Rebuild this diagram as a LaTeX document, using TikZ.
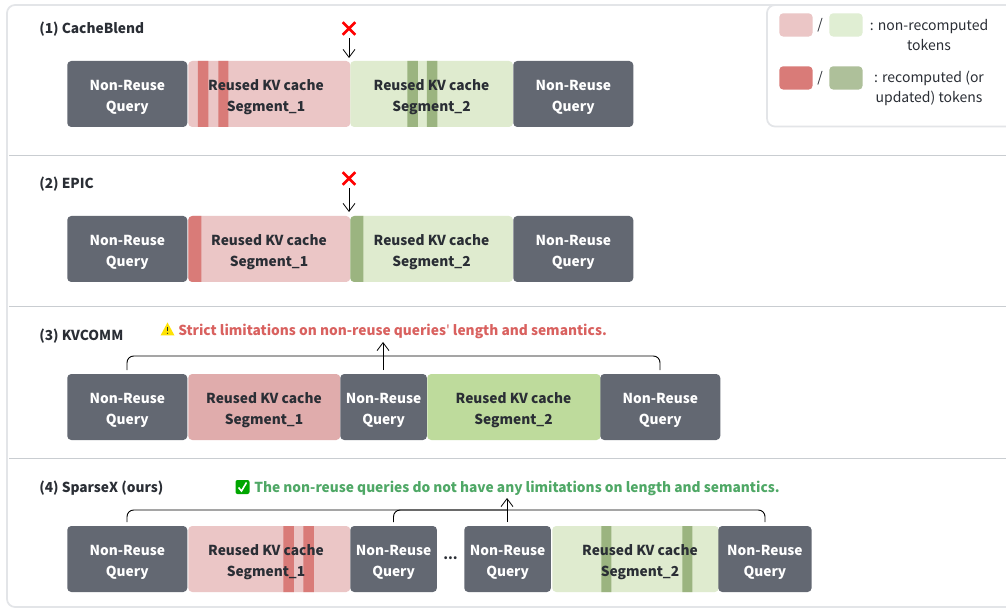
\documentclass[tikz,border=0pt]{standalone}
\usepackage{fontspec}
\setmainfont{Noto Sans CJK SC}
\font\aposfont="Noto Sans CJK SC:style=Bold" at 10.3pt
\usetikzlibrary{arrows.meta,calc}
\definecolor{qgray}{HTML}{636872}
\definecolor{pinkl}{HTML}{EBC6C6}
\definecolor{pinkd}{HTML}{D97B78}
\definecolor{pinkm}{HTML}{E0ACAC}
\definecolor{greenl}{HTML}{DFEBCF}
\definecolor{greend}{HTML}{9BB480}
\definecolor{greenm}{HTML}{BEDB9C}
\definecolor{legl}{HTML}{E0EED3}
\definecolor{legd}{HTML}{AEC09A}
\definecolor{inkc}{HTML}{2A2E35}
\definecolor{redt}{HTML}{D9615F}
\definecolor{greent}{HTML}{4FA866}
\definecolor{frame}{HTML}{E3E5E8}
\definecolor{sepc}{HTML}{C9CDD1}
\tikzset{
 x=0.75pt,y=-0.75pt,
 box/.style={rectangle,rounded corners=3pt,minimum height=49.5pt,inner sep=0pt,anchor=west},
 qlab/.style={font=\fontsize{10.3}{15.75}\selectfont\bfseries,text=white,align=center,inner sep=0pt,yshift=-2.7pt},
 query/.style={box,fill=qgray,label={[qlab]center:{Non-Reuse\\Query}}},
 seg/.style={box},
 lab/.style={font=\fontsize{10.3}{15.75}\selectfont\bfseries,text=inkc,align=center,inner sep=0pt,yshift=-1.5pt},
 title/.style={font=\fontsize{10.3}{13}\selectfont\bfseries,text=inkc,anchor=west,inner sep=0pt},
 sep/.style={draw=sepc,line width=1.4pt},
 swatch/.style={rectangle,rounded corners=3pt,minimum width=25pt,minimum height=17.5pt,inner sep=0pt,anchor=north west},
 legt/.style={font=\fontsize{10.5}{15}\selectfont,text=inkc,align=center,inner sep=0pt},
 arr/.style={draw=black,line width=0.6pt,-{Straight Barb[length=6pt,width=9pt]}},
 brk/.style={draw=black,line width=0.7pt,rounded corners=5pt},
 xmark/.style={draw=red,line width=2pt},
}
% \stripe{node centre x}{left}{right}{colour}: path pictures use the node's centre as origin
\newcommand{\stripe}[4]{\fill[#4] (#2-#1,-60) rectangle (#3-#1,60);}
\begin{document}
\begin{tikzpicture}
\useasboundingbox (0,0) rectangle (1006,609);
\fill[white] (0,0) rectangle (1006,609);
\draw[frame,line width=1.3pt,rounded corners=6pt] (1020,5) -- (7,5) -- (7,607) -- (1020,607);
\clip (0,0) rectangle (1006,609);
\draw[sep] (9,155.5) -- (1006,155.5);
\draw[sep] (9,306.5) -- (1006,306.5);
\draw[sep] (9,458.5) -- (1006,458.5);
% legend
\draw[frame,fill=white,line width=1.3pt,rounded corners=6pt] (1020,5) -- (767,5) -- (767,126.5) -- (1020,126.5);
\node[swatch,fill=pinkl] (s1) at (779,13) {};
\node[legt] (sl1) at (820,25) {/};
\node[swatch,fill=legl] (s2) at (829,13) {};
\node[legt] (t1) at (929,35) {: non-recomputed\\tokens};
\node[swatch,fill=pinkd] (s3) at (779,66) {};
\node[legt] (sl2) at (820,78) {/};
\node[swatch,fill=legd] (s4) at (829,66) {};
\node[legt] (t2) at (929,88.5) {: recomputed (or\\updated) tokens};
% Row 1
\node[title] (h1) at (39,29) {(1) CacheBlend};
\node[query,minimum width=90pt] (a1) at (67,94) {};
\node[seg,fill=pinkl,minimum width=121.5pt,path picture={\stripe{269}{197.5}{208}{pinkd}\stripe{269}{218}{228}{pinkd}}] (a2) at (188,94) {};
\node[seg,fill=greenl,minimum width=122pt,path picture={\stripe{431.33}{407}{417.5}{greend}\stripe{431.33}{426.5}{437}{greend}}] (a3) at (350,94) {};
\node[query,minimum width=90pt] (a4) at (513,94) {};
\node[lab] (a2t) at (266,95.5) {Reused KV cache\\Segment\_1};
\node[lab] (a3t) at (431.5,95.5) {Reused KV cache\\Segment\_2};
\node[inner sep=0pt,minimum size=9pt] (x1) at (349,28.5) {};
\draw[xmark] (x1.north west) -- (x1.south east) (x1.north east) -- (x1.south west);
\coordinate (x1a) at (349,38);
\coordinate (x1b) at (349,58);
\draw[arr] (x1a) -- (x1b);
% Row 2
\node[title] (h2) at (39,184) {(2) EPIC};
\node[query,minimum width=90pt] (b1) at (67,249) {};
\node[seg,fill=pinkl,minimum width=121.5pt,path picture={\stripe{269}{180}{201}{pinkd}}] (b2) at (188,249) {};
\node[seg,fill=greenl,minimum width=122pt,path picture={\stripe{431.33}{340}{363}{greend}}] (b3) at (350,249) {};
\node[query,minimum width=90pt] (b4) at (513,249) {};
\node[lab] (b2t) at (269,250.5) {Reused KV cache\\Segment\_1};
\node[lab] (b3t) at (431.5,250.5) {Reused KV cache\\Segment\_2};
\node[inner sep=0pt,minimum size=9pt] (x2) at (349,178.5) {};
\draw[xmark] (x2.north west) -- (x2.south east) (x2.north east) -- (x2.south west);
\coordinate (x2a) at (349,188);
\coordinate (x2b) at (349,212);
\draw[arr] (x2a) -- (x2b);
% Row 3
\node[title] (h3) at (39,336) {(3) KVCOMM};
\node[query,minimum width=90pt] (c1) at (67,407) {};
\node[seg,fill=pinkm,minimum width=114pt] (c2) at (188,407) {};
\node[query,minimum width=65pt] (c3) at (340,407) {};
\node[seg,fill=greenm,minimum width=130pt] (c4) at (427,407) {};
\node[query,minimum width=90pt] (c5) at (600,407) {};
\node[lab] (c2t) at (264,408.5) {Reused KV cache\\Segment\_1};
\node[lab] (c4t) at (513.5,408.5) {Reused KV cache\\Segment\_2};
\fill[yellow!85!orange] (160.5,335.5) -- (167.5,322.5) -- (174.5,335.5) -- cycle;
\draw[inkc,line width=0.9pt] (167.5,327) -- (167.5,331.5);
\fill[inkc] (167.5,333.3) circle (0.7);
\node[font=\fontsize{10.3}{13}\selectfont\bfseries,text=redt,anchor=west,inner sep=0pt] (c6) at (178,331) {Strict limitations on non-reuse queries{\aposfont '} length and semantics.};
\coordinate (c1a) at (127,370);
\coordinate (c3a) at (383,370);
\coordinate (c5a) at (660,370);
\coordinate (c3b) at (383,342);
\draw[brk] (c1a) |- (c5a |- 0,356) -- (c5a);
\draw[arr] (c3a) -- (c3b);
% Row 4
\node[title] (h4) at (39,488) {(4) SparseX (ours)};
\node[query,minimum width=90pt] (d1) at (67,559) {};
\node[seg,fill=pinkl,minimum width=121.5pt,path picture={\stripe{269}{283}{293.5}{pinkd}\stripe{269}{303}{313.5}{pinkd}}] (d2) at (188,559) {};
\node[query,minimum width=65pt] (d3) at (350,559) {};
\node[lab,text=inkc] (d4) at (450.5,556) {...};
\node[query,minimum width=65pt] (d5) at (464,559) {};
\node[seg,fill=greenl,minimum width=125pt,path picture={\stripe{635.33}{601}{611}{greend}\stripe{635.33}{682}{692}{greend}}] (d6) at (552,559) {};
\node[query,minimum width=70pt] (d7) at (718,559) {};
\node[lab] (d2t) at (266,560.5) {Reused KV cache\\Segment\_1};
\node[lab] (d6t) at (640,560.5) {Reused KV cache\\Segment\_2};
\node[rectangle,rounded corners=1.5pt,fill=green!65!black,minimum size=10.5pt,inner sep=0pt] (d8) at (242.5,487) {};
\draw[white,line width=1.2pt] (238.5,487.5) -- (241.5,491) -- (246.5,482.5);
\node[font=\fontsize{10.3}{13}\selectfont\bfseries,text=greent,anchor=west,inner sep=0pt] (d9) at (254,488) {The non-reuse queries do not have any limitations on length and semantics.};
\coordinate (d1a) at (127,522);
\coordinate (d3a) at (393.5,522);
\coordinate (d5a) at (507,522);
\coordinate (d7a) at (765,522);
\coordinate (d5b) at (507,498);
\draw[brk] (d1a) |- (d7a |- 0,510) -- (d7a);
\draw[brk] (d3a) |- (d5a |- 0,510);
\draw[arr] (d5a) -- (d5b);
\end{tikzpicture}
\end{document}
